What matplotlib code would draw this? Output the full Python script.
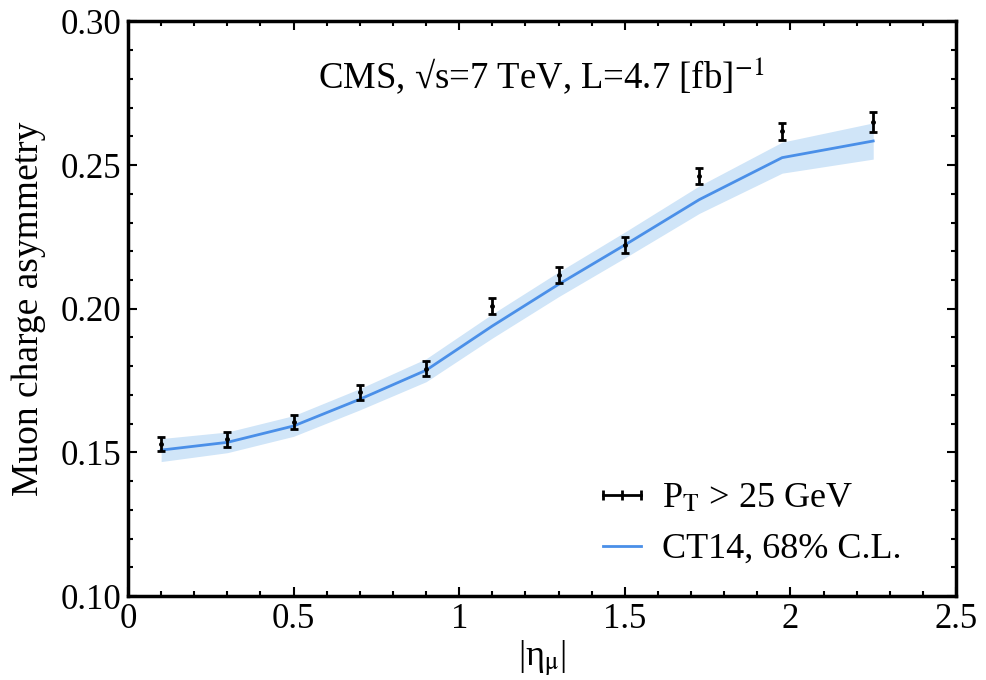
import matplotlib
matplotlib.use("Agg")
import matplotlib.pyplot as plt
from matplotlib.lines import Line2D
from matplotlib.ticker import MultipleLocator
import numpy as np

# CMS muon charge asymmetry data (pT > 25 GeV)
eta = [0.1, 0.3, 0.5, 0.7, 0.9, 1.1, 1.3, 1.5, 1.725, 1.975, 2.25]
asym = [0.1530, 0.1545, 0.1605, 0.1710, 0.1792, 0.2010, 0.2118, 0.2222, 0.2462, 0.2618, 0.2651]
asym_err = [0.0024, 0.0025, 0.0025, 0.0026, 0.0027, 0.0027, 0.0027, 0.0027, 0.0029, 0.0029, 0.0035]

# CT14 prediction with 68% C.L. band
ct14 = [0.1508, 0.1535, 0.1592, 0.1685, 0.1786, 0.1940, 0.2085, 0.2222, 0.2380, 0.2526, 0.2584]
ct14_err = [0.0040, 0.0036, 0.0036, 0.0037, 0.0040, 0.0042, 0.0043, 0.0045, 0.0048, 0.0054, 0.0063]

plt.rcParams["font.family"] = ["Liberation Serif", "DejaVu Serif"]
plt.rcParams["mathtext.fontset"] = "stix"

fig = plt.figure(figsize=(9.87, 6.8), dpi=100)
ax = fig.add_axes([0.1297, 0.1235, 0.8389, 0.8449])

lo = np.array(ct14) - np.array(ct14_err)
hi = np.array(ct14) + np.array(ct14_err)
ax.fill_between(eta, lo, hi, color="#d0e5f8", lw=0, zorder=1)
ax.plot(eta, ct14, color="#4a8fe8", lw=2, zorder=2)
ax.errorbar(eta, asym, yerr=asym_err, fmt="o", ms=2.5, color="black",
            ecolor="black", elinewidth=2, capsize=3, capthick=2, zorder=3)

ax.set_xlim(0, 2.5)
ax.set_ylim(0.10, 0.30)
ax.xaxis.set_minor_locator(MultipleLocator(0.1))
ax.yaxis.set_minor_locator(MultipleLocator(0.01))
ax.set_xticks([0, 0.5, 1, 1.5, 2, 2.5])
ax.set_xticklabels(["0", "0.5", "1", "1.5", "2", "2.5"])
ax.set_yticks([0.10, 0.15, 0.20, 0.25, 0.30])
ax.set_yticklabels(["0.10", "0.15", "0.20", "0.25", "0.30"])
ax.tick_params(which="both", direction="in", top=True, right=True,
               width=1.5, labelsize=25)
ax.tick_params(which="major", length=6.5, pad=5)
ax.tick_params(which="minor", length=3.5)
for s in ax.spines.values():
    s.set_linewidth(2.5)

ax.set_xlabel("|η$_\\mathrm{μ}$|", fontsize=26, labelpad=2)
ax.set_ylabel("Muon charge asymmetry", fontsize=27, labelpad=10)

ax.text(1.248, 0.281, "CMS, √s=7 TeV, L=4.7 [fb]$^{-1}$",
        ha="center", va="center", fontsize=26.5)

h_data = Line2D([], [], color="black", lw=2, marker="|", ms=7, mew=2)
h_ct = Line2D([], [], color="#4a8fe8", lw=2)
ax.legend([h_data, h_ct], ["P$_\\mathrm{T}$ > 25 GeV", "CT14, 68% C.L."],
          loc="upper left", bbox_to_anchor=(0.561, 0.198), frameon=False,
          fontsize=26, numpoints=3, borderpad=0, borderaxespad=0,
          handlelength=1.65, handletextpad=0.28, labelspacing=0.48)

fig.savefig("out.png", dpi=100)
